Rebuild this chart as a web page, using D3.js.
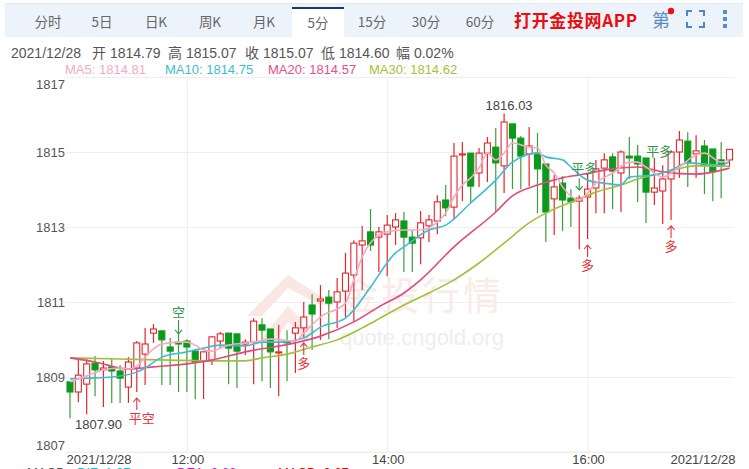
<!DOCTYPE html>
<html><head><meta charset="utf-8">
<script src="https://cdn.jsdelivr.net/npm/d3@7/dist/d3.min.js"></script>
<style>html,body{margin:0;padding:0;background:#fff;overflow:hidden}svg{display:block;font-family:"Liberation Sans","Noto Sans CJK SC",sans-serif}</style>
</head><body><svg id="c" width="749" height="469"></svg>
<script>
const tabs=["分时","5日","日K","周K","月K","5分","15分","30分","60分"];
const opens=[1808.87,1808.60,1808.81,1809.37,1809.19,1809.27,1809.16,1808.73,1809.24,1809.61,1810.17,1810.23,1809.80,1809.93,1809.96,1809.69,1809.43,1809.45,1809.96,1810.17,1810.15,1809.88,1809.93,1810.39,1810.28,1809.64,1809.96,1810.17,1810.31,1810.92,1811.03,1811.13,1811.00,1811.29,1811.72,1812.52,1812.87,1812.73,1812.81,1813.00,1813.16,1812.73,1812.71,1813.03,1813.16,1813.72,1813.53,1814.92,1814.97,1814.44,1814.97,1815.13,1814.63,1815.75,1815.37,1814.95,1814.97,1814.68,1813.75,1814.17,1813.77,1813.69,1813.80,1814.04,1814.57,1814.87,1814.44,1814.89,1814.89,1814.84,1813.93,1813.96,1814.28,1815.00,1815.29,1814.95,1815.16,1815.08,1814.79,1814.79];
const closes=[1808.60,1809.05,1809.35,1809.19,1809.24,1809.16,1808.97,1809.40,1809.91,1809.88,1810.28,1809.99,1809.69,1809.88,1809.80,1809.40,1809.67,1810.07,1810.15,1809.77,1809.69,1809.93,1810.49,1810.25,1809.67,1809.67,1809.91,1810.31,1810.60,1810.68,1811.08,1810.97,1811.27,1811.77,1812.57,1812.63,1812.52,1812.87,1813.05,1813.19,1812.73,1812.57,1813.11,1813.19,1813.67,1813.51,1814.89,1814.95,1814.09,1814.97,1815.24,1814.71,1815.80,1815.37,1814.89,1815.16,1814.55,1813.40,1814.07,1813.72,1813.67,1813.77,1814.01,1814.55,1814.79,1814.49,1815.00,1814.84,1814.68,1813.93,1814.04,1814.28,1815.00,1815.32,1814.71,1815.03,1814.65,1814.47,1814.65,1815.07];
const highs=[1808.87,1809.48,1809.48,1809.56,1809.43,1809.48,1809.32,1809.53,1809.96,1810.31,1810.41,1810.25,1810.04,1810.15,1810.01,1809.75,1809.67,1810.09,1810.20,1810.17,1810.15,1810.01,1810.57,1810.57,1810.28,1810.39,1810.25,1810.47,1811.00,1811.21,1811.45,1811.32,1811.64,1812.31,1812.65,1813.03,1813.48,1813.00,1813.32,1813.37,1813.40,1812.92,1813.43,1813.32,1813.85,1814.12,1815.24,1815.27,1814.97,1815.11,1815.40,1815.64,1816.03,1815.75,1815.43,1815.67,1815.51,1814.68,1814.39,1814.36,1814.01,1813.85,1814.44,1814.79,1814.97,1814.97,1815.05,1815.40,1815.19,1814.84,1814.84,1814.65,1815.05,1815.56,1815.53,1815.45,1815.32,1815.08,1815.27,1815.07];
const lows=[1807.90,1808.33,1808.01,1808.49,1808.20,1808.31,1808.31,1808.31,1808.60,1808.79,1809.91,1808.79,1808.79,1808.60,1808.60,1808.41,1808.41,1809.32,1809.77,1808.81,1808.71,1809.59,1808.81,1808.89,1808.71,1808.49,1808.89,1809.11,1810.07,1809.72,1809.99,1810.01,1810.31,1810.60,1810.49,1811.32,1812.36,1811.80,1811.69,1812.52,1811.80,1811.80,1812.01,1812.60,1812.81,1813.29,1813.21,1813.69,1813.64,1814.07,1814.20,1813.40,1813.91,1814.01,1814.01,1814.09,1813.37,1812.60,1812.79,1812.89,1813.00,1812.41,1812.68,1813.37,1813.37,1813.48,1813.40,1814.28,1813.67,1813.11,1813.59,1813.08,1813.19,1814.31,1814.07,1814.31,1813.88,1813.69,1813.77,1814.60];

const ma5Idx=[0,2,4,6,7,8,9,10,11,13,14,15,16,17,18,19,22,24,27,28,30,33,34,35,37,38,40,42,44,45,46,47,48,49,50,51,52,53,55,56,57,58,59,61,62,63,65,67,68,69,71,72,73,75,76,78,79];
const ma5=[1808.87,1809.03,1809.19,1809.24,1809.21,1809.29,1809.53,1809.75,1809.88,1809.93,1809.93,1809.85,1809.72,1809.69,1809.77,1809.85,1809.93,1810.01,1809.96,1810.17,1810.60,1810.97,1811.59,1812.20,1812.79,1812.87,1812.92,1812.92,1813.13,1813.37,1813.80,1814.12,1814.31,1814.57,1814.97,1814.79,1814.97,1815.24,1815.13,1815.11,1814.65,1814.44,1814.07,1813.72,1813.91,1814.17,1814.44,1814.73,1814.73,1814.60,1814.33,1814.44,1814.60,1814.92,1814.97,1814.73,1814.81];
const ma10Idx=[0,2,5,8,9,11,14,16,18,21,23,25,28,30,33,34,36,39,40,43,45,48,51,53,56,57,59,60,62,64,66,67,70,72,74,78,79];
const ma10=[1808.95,1808.97,1809.00,1809.13,1809.24,1809.53,1809.67,1809.77,1809.85,1809.83,1809.93,1809.93,1810.04,1810.33,1810.57,1810.79,1811.40,1812.31,1812.47,1812.92,1813.05,1813.64,1814.25,1814.73,1814.97,1814.87,1814.79,1814.60,1814.25,1814.17,1814.12,1814.33,1814.39,1814.52,1814.71,1814.65,1814.75];
const ma20Idx=[0,3,7,10,14,17,21,27,30,34,37,40,42,46,51,53,56,59,61,65,68,71,75,79];
const ma20=[1809.51,1809.40,1809.21,1809.27,1809.35,1809.45,1809.67,1809.91,1810.09,1810.47,1810.87,1811.24,1811.59,1812.47,1813.40,1813.83,1814.12,1814.31,1814.39,1814.55,1814.60,1814.47,1814.41,1814.57];
const ma30Idx=[0,6,12,18,21,23,26,29,32,35,37,40,43,46,49,52,55,57,61,63,66,68,71,75,79];
const ma30=[1809.51,1809.48,1809.45,1809.43,1809.43,1809.51,1809.61,1809.80,1809.99,1810.31,1810.55,1810.92,1811.24,1811.59,1812.04,1812.57,1813.11,1813.37,1813.75,1813.93,1814.12,1814.28,1814.44,1814.63,1814.62];

const yTicks=[1807,1809,1811,1813,1815,1817];
const xTickIdx=[0,14,38,62,79];
const xTickLabels=["2021/12/28","12:00","14:00","16:00","2021/12/28"];
const signalIdx=[8,13,28,61,62,70,72];
const signalText=["平空","空","多","平多","多","平多","多"];
const infoLabels=["2021/12/28","开 1814.79","高 1815.07","收 1815.07","低 1814.60","幅 0.02%"];

const svg=d3.select("#c");
const x=d3.scaleLinear().domain([0,79]).range([70,729.5]);
const y=d3.scaleLinear().domain([1807,1817]).range([452,77]);
const RED="#e3262c",GREEN="#0c9a1c",GREENW="#3f9c3c";
const CJK='"Noto Sans CJK SC","Liberation Sans",sans-serif';

// toolbar
svg.append("rect").attr("x",5).attr("y",4).attr("width",738).attr("height",33).attr("fill","#edf3fb");
svg.append("rect").attr("x",5).attr("y",3).attr("width",738).attr("height",1).attr("fill","#e3e9f2");
svg.append("rect").attr("x",292).attr("y",7).attr("width",52).attr("height",31).attr("fill","#fff");
svg.append("rect").attr("x",292).attr("y",7).attr("width",52).attr("height",2).attr("fill","#1b3a6b");
svg.selectAll("text.tab").data(tabs).join("text").attr("class","tab")
  .attr("x",(d,i)=>48+i*54).attr("y",(d,i)=>i==5?28:27).attr("text-anchor","middle")
  .attr("font-size",13.5).attr("fill","#666").attr("font-family",CJK).text(d=>d);
svg.append("text").attr("x",514).attr("y",27).attr("font-size",17).attr("font-weight",700).attr("fill","#ec0c0c").attr("font-family",CJK).attr("textLength",123).text("打开金投网APP");
svg.append("text").attr("x",652).attr("y",27).attr("font-size",18).attr("fill","#5a8cc4").attr("font-family",CJK).text("第");
svg.append("circle").attr("cx",671).attr("cy",11).attr("r",3.2).attr("fill","#ee1111");
svg.append("path").attr("d","M687,16V11H692M699,11H704V16M704,22V27H699M692,27H687V22").attr("fill","none").attr("stroke","#4f86c6").attr("stroke-width",2);
svg.selectAll("rect.dot").data([10,17,24]).join("rect").attr("class","dot").attr("x",723).attr("y",d=>d).attr("width",4).attr("height",4).attr("fill","#5b8fc7");

// info rows
const infoX=[11,92,168,245,321,396];
svg.selectAll("text.info").data(infoLabels).join("text").attr("class","info")
  .attr("x",(d,i)=>infoX[i]).attr("y",58).attr("font-size",14).attr("fill","#555")
  .attr("font-family",'"Liberation Sans","Noto Sans CJK SC"').text(d=>d);
const maLabels=[["MA5: 1814.81",65,"#f7a8c4"],["MA10: 1814.75",165,"#3dbdd0"],["MA20: 1814.57",268,"#e8508a"],["MA30: 1814.62",369,"#a3c339"]];
svg.selectAll("text.ma").data(maLabels).join("text").attr("class","ma").attr("x",d=>d[1]).attr("y",74).attr("font-size",13).attr("fill",d=>d[2]).text(d=>d[0]);

// watermark
svg.append("path").attr("d","M247,316L288,275L320,296L335,306L318,304L288,288L262,316ZM262,338L288,306L312,330L306,342L288,322L274,342Z").attr("fill","#f9e7e3");
svg.append("text").attr("x",340).attr("y",309).attr("font-size",38).attr("fill","#f9ebe8").attr("font-family",CJK).attr("letter-spacing",3).text("金投行情");
svg.append("text").attr("x",340).attr("y",345).attr("font-size",22).attr("fill","#eeeeee").text("quote.cngold.org");

// axes
const yAxis=d3.axisLeft(y).tickValues(yTicks).tickSize(-668).tickPadding(1).tickFormat(d3.format("d"));
const gy=svg.append("g").attr("transform","translate(66,0)").call(yAxis);
gy.select(".domain").remove();
gy.selectAll("line").attr("stroke","#eeeeee");
gy.selectAll("text").attr("font-size",13).attr("font-family","Liberation Sans").attr("fill","#555")
  .attr("dy",d=>d==1817?"0.9em":d==1807?"-0.2em":"0.32em");
const xAxis=d3.axisBottom(x).tickValues(xTickIdx).tickSize(-374).tickPadding(3).tickFormat((d,i)=>xTickLabels[i]);
const gx=svg.append("g").attr("transform","translate(0,452)").call(xAxis);
gx.select(".domain").attr("stroke","#eeeeee").attr("d","M66,0H735");
gx.selectAll("line").attr("stroke",(d,i)=>(i==0||i==4)?"none":"#eeeeee");
gx.selectAll("text").attr("font-size",13).attr("font-family","Liberation Sans").attr("fill","#444");
gx.selectAll("text").filter((d,i)=>i==0).attr("text-anchor","start").attr("x",-4);
gx.selectAll("text").filter((d,i)=>i==4).attr("text-anchor","end").attr("x",5.5);
gx.selectAll("text").filter((d,i)=>i>0&&i<4).attr("x",0.5);

// candles
const idx=d3.range(opens.length);
const up=i=>closes[i]>=opens[i];
svg.append("g").selectAll("line").data(idx).join("line")
  .attr("x1",i=>x(i)).attr("x2",i=>x(i)).attr("y1",i=>y(highs[i])).attr("y2",i=>y(lows[i]))
  .attr("stroke",i=>up(i)?RED:GREENW).attr("stroke-width",1.2);
svg.append("g").selectAll("rect").data(idx).join("rect")
  .attr("x",i=>x(i)-3).attr("width",6)
  .attr("y",i=>y(Math.max(opens[i],closes[i])))
  .attr("height",i=>Math.max(1,Math.abs(y(opens[i])-y(closes[i]))))
  .attr("fill",i=>up(i)?"#fff":GREEN).attr("stroke",i=>up(i)?RED:GREEN).attr("stroke-width",1.1);

// moving averages
const lineOf=(ix,vals)=>d3.line().x((d,i)=>x(ix[i])).y(d=>y(d)).curve(d3.curveMonotoneX)(vals);
[[ma30Idx,ma30,"#a3bf3a"],[ma20Idx,ma20,"#e4487e"],[ma10Idx,ma10,"#3fbcd4"],[ma5Idx,ma5,"#f6a9c2"]].forEach(s=>{
  svg.append("path").attr("d",lineOf(s[0],s[1])).attr("fill","none").attr("stroke",s[2]).attr("stroke-width",1.6);
});

// extreme labels
svg.append("text").attr("x",x(0)+5).attr("y",y(d3.min(lows))+11).attr("font-size",13).attr("fill","#444").text(d3.format(".2f")(d3.min(lows)));
svg.append("text").attr("x",x(52)+5).attr("y",y(d3.max(highs))-3).attr("text-anchor","middle").attr("font-size",13).attr("fill","#444").text(d3.format(".2f")(d3.max(highs)));

// trade signals
signalIdx.forEach((ci,k)=>{
  const t=signalText[k], isRed=!t.startsWith("平多")&&t!=="空";
  const col=isRed?"#e8323a":"#2f9a45";
  const g=svg.append("g");
  const cx=x(ci);
  if(isRed){
    const tip=y(lows[ci])+6;
    g.append("path").attr("d",`M${cx},${tip+12}V${tip}M${cx-3.5},${tip+4}L${cx},${tip}L${cx+3.5},${tip+4}`).attr("fill","none").attr("stroke",col).attr("stroke-width",1.1);
    g.append("text").attr("x",cx+(t.length>1?5:0)).attr("y",tip+25).attr("text-anchor","middle").attr("font-size",13).attr("fill",col).attr("font-family",CJK).text(t);
  }else if(t=="空"){
    const tip=y(highs[ci]);
    g.append("path").attr("d",`M${cx},${tip-14}V${tip}M${cx-3.5},${tip-4}L${cx},${tip}L${cx+3.5},${tip-4}`).attr("fill","none").attr("stroke",col).attr("stroke-width",1.1);
    g.append("text").attr("x",cx).attr("y",tip-17).attr("text-anchor","middle").attr("font-size",13).attr("fill",col).attr("font-family",CJK).text(t);
  }else{
    const ty=y(highs[ci])-(ci==61?22:2);
    if(ci==61) g.append("path").attr("d",`M${cx},${ty+5}V${ty+17}M${cx-3.5},${ty+13}L${cx},${ty+17}L${cx+3.5},${ty+13}`).attr("fill","none").attr("stroke",col).attr("stroke-width",1.1);
    g.append("text").attr("x",cx+5).attr("y",ty).attr("text-anchor","middle").attr("font-size",13).attr("fill",col).attr("font-family",CJK).text(t);
  }
});

// lower panel header, clipped by the window edge
const subLabels=[["MACD",27,"#555"],["DIF: 1.07",77,"#19b5d0"],["DEA: 0.66",177,"#c81fc8"],["MACD: 0.67",278,"#c81010"]];
svg.selectAll("text.sub").data(subLabels).join("text").attr("class","sub").attr("x",d=>d[1]).attr("y",477).attr("font-size",13).attr("fill",d=>d[2]).text(d=>d[0]);
</script></body></html>
